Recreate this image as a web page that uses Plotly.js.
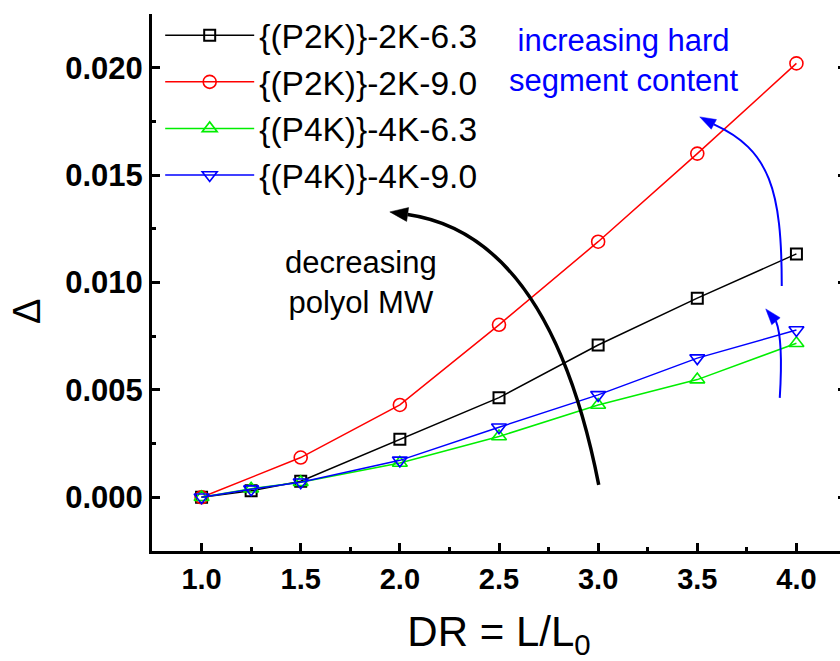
<!DOCTYPE html>
<html>
<head>
<meta charset="utf-8">
<script src="https://cdn.plot.ly/plotly-3.0.1.min.js"></script>
<style>
  html, body { margin: 0; padding: 0; overflow: hidden; background: #fff; }
  #chart { width: 850px; height: 661px; }
</style>
</head>
<body>
<div id="chart"></div>
<script>
// ---- data ----
const xDR = [1.0, 1.25, 1.5, 2.0, 2.5, 3.0, 3.5, 4.0];
const xDRred = [1.0, 1.5, 2.0, 2.5, 3.0, 3.5, 4.0];
const p2k63 = [0.0, 0.0003, 0.00075, 0.0027, 0.00464, 0.00709, 0.00927, 0.01133];
const p2k90 = [0.0, 0.00185, 0.0043, 0.00803, 0.0119, 0.0160, 0.0202];
const p4k63 = [0.0, 0.0004, 0.0007, 0.0016, 0.00283, 0.0043, 0.00548, 0.00717];
const p4k90 = [0.0, 0.00038, 0.0007, 0.00172, 0.00326, 0.00477, 0.00648, 0.00779];
const seriesNames = ['{(P2K)}-2K-6.3', '{(P2K)}-2K-9.0', '{(P4K)}-4K-6.3', '{(P4K)}-4K-9.0'];
const xTickVals = [1.0, 1.5, 2.0, 2.5, 3.0, 3.5, 4.0];
const yTickVals = [0.000, 0.005, 0.010, 0.015, 0.020];

const FONT = 'Liberation Sans, Arial, Helvetica, sans-serif';

function trace(x, y, name, color, symbol, size, lw) {
  return {
    type: 'scatter', mode: 'lines+markers', x: x, y: y, name: name,
    line: { color: color, width: 1.5 },
    marker: { symbol: symbol, size: size, color: color, line: { color: color, width: lw } },
    cliponaxis: false
  };
}

const data = [
  trace(xDR, p2k63, seriesNames[0], '#000000', 'square-open', 11, 2),
  trace(xDRred, p2k90, seriesNames[1], '#ff0000', 'circle-open', 13, 1.6),
  trace(xDR, p4k63, seriesNames[2], '#00ee00', 'triangle-up-open', 13, 1.6),
  trace(xDR, p4k90, seriesNames[3], '#0000ff', 'triangle-down-open', 13, 1.6)
];

const layout = {
  width: 850, height: 661,
  margin: { l: 152, r: 4, t: 14, b: 110 },
  paper_bgcolor: '#ffffff', plot_bgcolor: '#ffffff',
  font: { family: FONT, color: '#000' },
  showlegend: true,
  legend: {
    x: 0.0118, y: 1.013, xanchor: 'left', yanchor: 'top',
    bgcolor: 'rgba(0,0,0,0)', borderwidth: 0,
    font: { family: FONT, size: 33.5, color: '#000' },
    itemwidth: 89, tracegroupgap: 0
  },
  xaxis: {
    range: [0.75, 4.25], tickmode: 'array', tickvals: xTickVals,
    ticktext: xTickVals.map(v => v.toFixed(1)),
    ticks: 'inside', ticklen: 8, tickwidth: 3, tickcolor: '#000',
    showline: true, linewidth: 3, linecolor: '#000', mirror: false,
    showgrid: false, zeroline: false,
    minor: { dtick: 0.25, tick0: 0, ticks: 'inside', ticklen: 4, tickwidth: 3, tickcolor: '#000' },
    tickfont: { family: FONT, size: 29, weight: 'bold', color: '#000' },
    title: { text: 'DR = L/L<sub>0</sub>', font: { family: FONT, size: 42, color: '#000' }, standoff: 28 }
  },
  yaxis: {
    range: [-0.0025, 0.0225], tickmode: 'array', tickvals: yTickVals,
    ticktext: yTickVals.map(v => v.toFixed(3)),
    ticks: 'inside', ticklen: 8, tickwidth: 3, tickcolor: '#000',
    showline: true, linewidth: 3, linecolor: '#000', mirror: 'ticks',
    showgrid: false, zeroline: false,
    minor: { dtick: 0.0025, tick0: 0, ticks: 'inside', ticklen: 4, tickwidth: 3, tickcolor: '#000' },
    tickfont: { family: FONT, size: 31, weight: 'bold', color: '#000' }
  },
  shapes: [
    // black curved arrow (decreasing polyol MW)
    { type: 'path', xref: 'x', yref: 'y',
      path: 'M3.003,0.000577 Q2.756,0.012216 2.0392,0.013166',
      line: { color: '#000', width: 3.5 } },
    { type: 'path', xref: 'x', yref: 'y',
      path: 'M1.9494,0.013287 L2.0442,0.013487 L2.0341,0.012845 Z',
      fillcolor: '#000', line: { color: '#000', width: 0.5 } },
    // blue curved arrow (upper)
    { type: 'path', xref: 'x', yref: 'y',
      path: 'M3.926,0.009842 C3.926,0.014311 3.8654,0.016173 3.5836,0.01736',
      line: { color: '#0000ff', width: 2 } },
    { type: 'path', xref: 'x', yref: 'y',
      path: 'M3.5125,0.01771 L3.5967,0.017586 L3.5705,0.017135 Z',
      fillcolor: '#0000ff', line: { color: '#0000ff', width: 0.5 } },
    // blue curved arrow (lower)
    { type: 'path', xref: 'x', yref: 'y',
      path: 'M3.916,0.004628 Q3.9342,0.007328 3.8967,0.008198',
      line: { color: '#0000ff', width: 2 } },
    { type: 'path', xref: 'x', yref: 'y',
      path: 'M3.8453,0.008771 L3.9179,0.008361 L3.8755,0.008035 Z',
      fillcolor: '#0000ff', line: { color: '#0000ff', width: 0.5 } }
  ],
  annotations: [
    { x: 1.803, y: 0.009981, xref: 'x', yref: 'y', showarrow: false, align: 'center',
      text: 'decreasing<br>polyol MW', font: { family: FONT, size: 31, color: '#000' } },
    { x: 3.129, y: 0.020317, xref: 'x', yref: 'y', showarrow: false, align: 'center',
      text: 'increasing hard<br>segment content', font: { family: FONT, size: 31, color: '#0000ff' } },
    { x: -0.180, y: 0.445, xref: 'paper', yref: 'paper', xanchor: 'center', yanchor: 'middle',
      showarrow: false, textangle: -90,
      text: 'Δ', font: { family: FONT, size: 38, color: '#000' } }
  ]
};

Plotly.newPlot('chart', data, layout, { displayModeBar: false, staticPlot: true });
</script>
</body>
</html>
